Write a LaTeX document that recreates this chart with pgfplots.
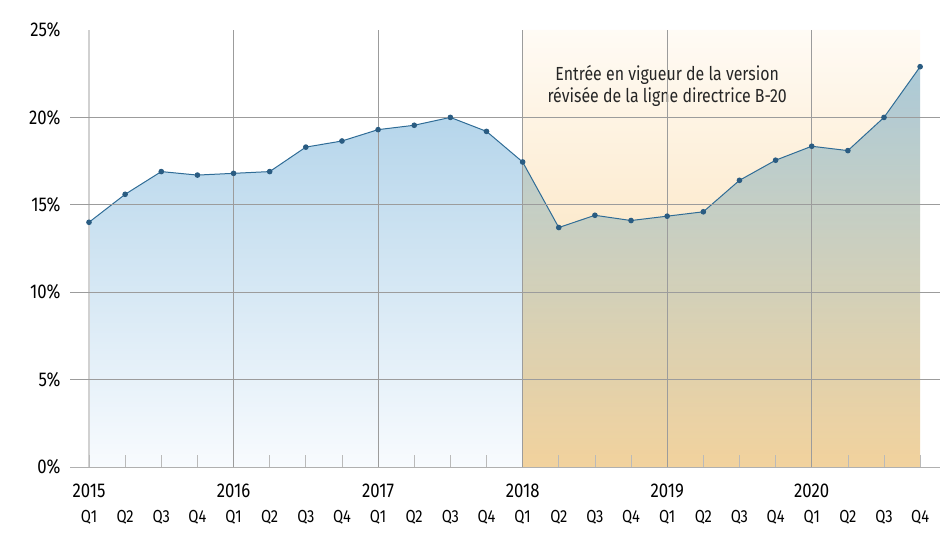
\documentclass[border=0pt]{standalone}
\usepackage{pgfplots}
\pgfplotsset{compat=1.18}
\usepackage{fontspec}
\setmainfont{Fira Sans}[FakeStretch=0.84]
\definecolor{lineblue}{HTML}{2F6C96}
\definecolor{markblue}{HTML}{2A5C82}
\definecolor{areatop}{HTML}{ACD0E8}
\definecolor{areabot}{HTML}{F8FBFE}
\definecolor{orbot}{HTML}{F9D69E}
\definecolor{ortop}{HTML}{FFFBF5}
\definecolor{gridc}{HTML}{9C9C9C}
\newcommand{\xl}[2]{\strut #1\\{\fontsize{17.5}{25}\selectfont #2}}
\pgfplotstableread{
x y
0 14.0
1 15.6
2 16.9
3 16.7
4 16.8
5 16.9
6 18.3
7 18.65
8 19.3
9 19.55
10 20.0
11 19.2
12 17.45
13 13.7
14 14.4
15 14.1
16 14.35
17 14.6
18 16.4
19 17.55
20 18.35
21 18.1
22 20.0
23 22.9
}\ratio
\begin{document}
\begin{tikzpicture}
\useasboundingbox (-70bp,-75bp) rectangle (880bp,467bp);
\begin{axis}[
  at={(0,0)}, anchor=south west,
  scale only axis, width=870bp, height=437bp,
  xmin=-0.526, xmax=23.55, ymin=0, ymax=25,
  axis on top,
  axis lines*=left,
  y axis line style={draw=none},
  x axis line style={gridc!80, line width=0.8pt},
  /pgf/number format/assume math mode=true,
  ytick={0,5,...,25},
  yticklabel={\pgfmathprintnumber{\tick}\%},
  yticklabel style={font=\fontsize{20}{24}\selectfont, anchor=east, xshift=-6bp},
  ytick style={draw=none},
  extra y ticks={5,10,15,20},
  extra y tick labels={},
  extra y tick style={grid=major, major grid style={gridc, line width=0.7pt}, major tick length=0pt},
  xtick={0,...,23},
  xticklabels={
    \xl{2015}{Q1},\xl{}{Q2},\xl{}{Q3},\xl{}{Q4},
    \xl{2016}{Q1},\xl{}{Q2},\xl{}{Q3},\xl{}{Q4},
    \xl{2017}{Q1},\xl{}{Q2},\xl{}{Q3},\xl{}{Q4},
    \xl{2018}{Q1},\xl{}{Q2},\xl{}{Q3},\xl{}{Q4},
    \xl{2019}{Q1},\xl{}{Q2},\xl{}{Q3},\xl{}{Q4},
    \xl{2020}{Q1},\xl{}{Q2},\xl{}{Q3},\xl{}{Q4}},
  xticklabel style={font=\fontsize{20}{25}\selectfont, align=center, anchor=north, yshift=-10bp},
  x tick style={draw=gridc!70, line width=0.7pt},
  major tick length=12bp,
  xtick align=inside,
  minor xtick={0},
  xminorgrids=true,
  minor grid style={black!18, line width=1.6pt},
  minor tick length=0pt,
  extra x ticks={4,8,12,16,20},
  extra x tick labels={},
  extra x tick style={grid=major, major grid style={gridc, line width=0.7pt}, major tick length=0pt},
  clip=false,
]
\addplot[draw=none, top color=ortop, bottom color=orbot] coordinates {(12,0) (12,25) (23,25) (23,0)} \closedcycle;
\addplot[draw=none, top color=areatop, bottom color=areabot, blend mode=multiply] table[x=x,y=y]{\ratio} \closedcycle;
\addplot[lineblue, line width=1pt, mark=*, mark size=2.3pt, mark options={fill=markblue, draw=markblue}] table[x=x,y=y]{\ratio};
\node[align=center, font=\fontsize{19}{23}\selectfont, text=black!85] at (axis cs:16,21.8) {Entrée en vigueur de la version\\révisée de la ligne directrice B-20};
\end{axis}
\end{tikzpicture}
\end{document}
